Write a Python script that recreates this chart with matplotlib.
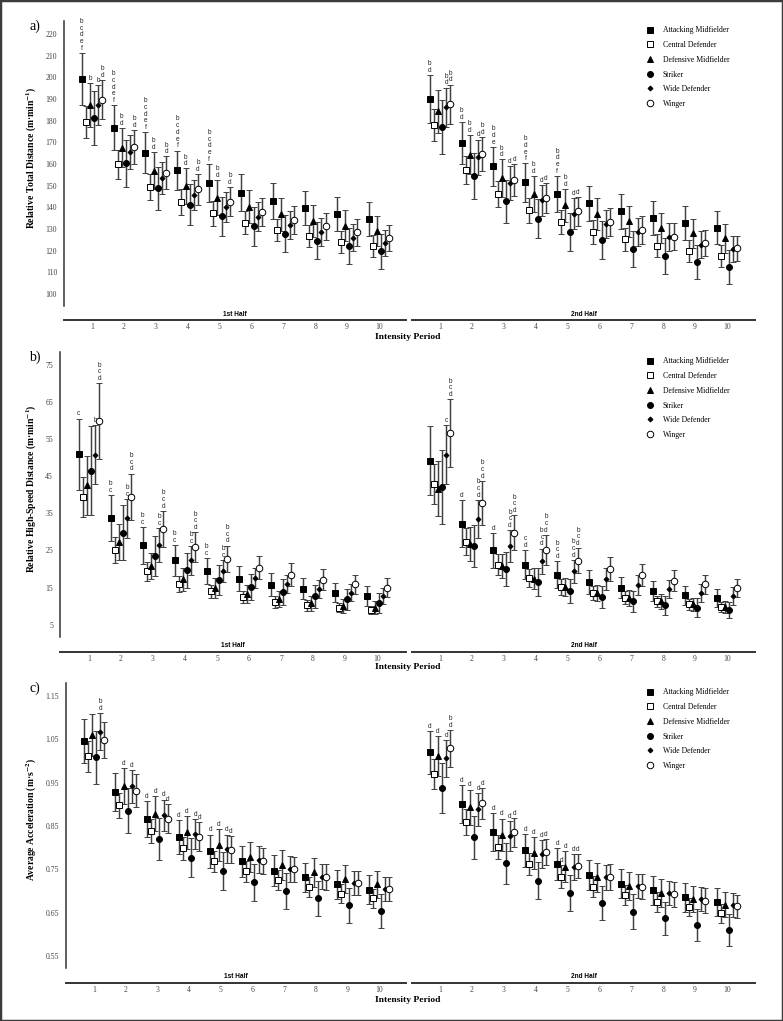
import numpy as np
import matplotlib.pyplot as plt
from matplotlib.lines import Line2D
from matplotlib.patches import Rectangle

plt.rcParams['mathtext.fontset'] = 'stix'

# ---------------- data ----------------
positions = ['Attacking Midfielder', 'Central Defender', 'Defensive Midfielder',
             'Striker', 'Wide Defender', 'Winger']
periods = np.arange(1, 11)
period_labels = [str(p) for p in periods]

# a) relative total distance (m/min), rows = positions, cols = periods
dist_h1_mean = [[199.2, 176.8, 165.2, 157.2, 151.3, 146.8, 143.0, 139.7, 137.0, 134.5],
                [179.5, 160.0, 149.5, 142.5, 137.2, 133.0, 129.6, 126.8, 124.2, 122.2],
                [187.4, 167.5, 157.0, 149.7, 144.5, 140.3, 136.8, 133.8, 131.5, 129.2],
                [181.2, 160.3, 148.8, 141.2, 135.8, 131.3, 127.8, 124.7, 122.0, 119.8],
                [187.3, 165.5, 153.5, 145.8, 140.2, 135.6, 131.8, 128.8, 126.0, 123.5],
                [189.7, 167.8, 156.0, 148.3, 142.7, 138.0, 134.3, 131.2, 128.5, 126.0]]
dist_h1_sd = [[12.0, 10.3, 9.5, 9.0, 8.7, 8.4, 8.2, 8.0, 8.0, 7.8],
              [7.4, 6.7, 6.0, 6.0, 5.8, 5.5, 5.2, 5.2, 5.1, 5.0],
              [10.1, 9.0, 8.5, 8.3, 8.0, 7.7, 7.5, 7.3, 7.2, 7.0],
              [12.5, 10.8, 10.0, 9.5, 9.0, 9.0, 8.6, 8.5, 8.3, 8.1],
              [9.2, 8.0, 7.5, 7.0, 6.8, 6.7, 6.5, 6.4, 6.2, 6.0],
              [9.0, 8.0, 7.5, 7.0, 6.7, 6.5, 6.4, 6.3, 6.1, 6.0]]
dist_h2_mean = [[190.0, 169.7, 158.9, 151.5, 146.2, 141.8, 138.2, 135.2, 132.8, 130.6],
                [178.2, 157.1, 146.0, 138.6, 133.2, 128.8, 125.2, 122.3, 119.8, 117.5],
                [184.3, 164.3, 153.5, 146.3, 140.9, 136.9, 133.5, 130.5, 128.0, 125.8],
                [177.1, 154.5, 142.8, 134.8, 128.5, 124.8, 120.8, 117.5, 114.8, 112.5],
                [186.3, 163.2, 151.2, 143.2, 137.1, 132.5, 128.8, 126.3, 122.8, 120.6],
                [187.7, 164.6, 152.5, 144.3, 138.2, 133.4, 129.5, 126.5, 123.7, 121.1]]
dist_h2_sd = [[11.0, 9.8, 9.0, 8.8, 8.3, 8.1, 8.0, 7.9, 7.8, 7.6],
              [7.4, 6.5, 6.0, 5.8, 5.6, 5.5, 5.3, 5.2, 5.1, 5.0],
              [10.0, 9.0, 8.6, 8.3, 7.7, 7.5, 7.2, 7.0, 6.8, 6.7],
              [12.3, 10.6, 9.8, 9.0, 8.8, 8.7, 8.5, 8.3, 8.0, 7.8],
              [9.0, 8.1, 8.0, 7.3, 7.2, 6.5, 6.5, 6.3, 6.2, 6.0],
              [9.0, 8.0, 7.4, 6.8, 6.6, 6.4, 6.3, 6.2, 6.0, 5.8]]

# b) relative high-speed distance (m/min)
hsd_h1_mean = [[50.9, 33.7, 26.4, 22.3, 19.4, 17.4, 15.8, 14.7, 13.6, 12.7],
               [39.4, 25.0, 19.4, 16.0, 14.0, 12.4, 11.1, 10.2, 9.6, 8.9],
               [42.5, 27.3, 20.7, 17.2, 14.9, 13.2, 12.0, 10.8, 10.0, 9.6],
               [46.5, 29.8, 23.4, 19.6, 17.0, 15.1, 13.8, 12.6, 11.8, 10.8],
               [50.8, 33.6, 26.4, 22.3, 19.4, 17.6, 16.0, 14.7, 13.6, 12.8],
               [59.8, 39.4, 30.8, 25.9, 22.8, 20.3, 18.5, 17.1, 15.9, 15.0]]
hsd_h1_sd = [[9.6, 6.2, 5.0, 4.2, 3.5, 3.3, 3.0, 2.8, 2.6, 2.6],
             [5.4, 3.5, 2.5, 2.1, 1.8, 1.6, 1.5, 1.4, 1.3, 1.1],
             [8.0, 4.8, 3.5, 3.0, 2.7, 2.4, 2.2, 2.0, 1.9, 1.7],
             [12.0, 7.3, 5.4, 4.7, 4.0, 3.5, 3.4, 3.0, 2.7, 2.7],
             [8.0, 5.2, 4.6, 3.9, 3.0, 2.7, 2.5, 2.4, 2.3, 2.2],
             [10.2, 6.3, 4.8, 4.0, 3.5, 3.1, 3.0, 2.8, 2.6, 2.5]]
hsd_h2_mean = [[49.2, 32.2, 25.0, 21.2, 18.5, 16.5, 15.0, 14.0, 12.9, 12.2],
               [42.9, 27.4, 21.2, 17.6, 15.1, 13.5, 12.3, 11.3, 10.5, 9.8],
               [41.6, 26.8, 20.8, 17.4, 15.1, 13.5, 12.2, 11.3, 10.5, 9.8],
               [42.1, 26.2, 20.1, 16.5, 14.1, 12.4, 11.3, 10.2, 9.6, 8.9],
               [50.8, 33.5, 26.2, 22.1, 19.4, 17.4, 15.8, 14.7, 13.5, 12.7],
               [56.6, 37.8, 29.8, 25.2, 22.2, 20.0, 18.3, 16.9, 15.9, 14.9]]
hsd_h2_sd = [[9.3, 6.3, 4.7, 4.0, 3.6, 3.2, 2.9, 2.7, 2.5, 2.4],
             [5.3, 3.7, 2.9, 2.4, 2.2, 1.9, 1.7, 1.5, 1.4, 1.3],
             [7.4, 4.6, 3.3, 2.9, 2.4, 2.2, 2.1, 2.0, 1.8, 1.7],
             [10.0, 5.7, 4.6, 3.9, 3.3, 3.0, 2.8, 2.6, 2.5, 2.2],
             [8.0, 5.1, 4.2, 3.4, 3.1, 3.0, 2.7, 2.4, 2.4, 2.4],
             [9.1, 5.9, 4.7, 4.0, 3.4, 3.2, 3.0, 2.8, 2.6, 2.5]]

# c) average acceleration (m/s2)
acc_h1_mean = [[1.047, 0.929, 0.866, 0.824, 0.792, 0.768, 0.747, 0.731, 0.715, 0.703],
               [1.011, 0.898, 0.838, 0.798, 0.768, 0.745, 0.726, 0.710, 0.694, 0.683],
               [1.060, 0.942, 0.878, 0.835, 0.805, 0.779, 0.760, 0.743, 0.728, 0.715],
               [1.008, 0.885, 0.820, 0.777, 0.745, 0.720, 0.700, 0.683, 0.667, 0.654],
               [1.068, 0.942, 0.875, 0.831, 0.797, 0.772, 0.751, 0.733, 0.718, 0.705],
               [1.048, 0.931, 0.867, 0.825, 0.795, 0.769, 0.750, 0.732, 0.718, 0.705]]
acc_h1_sd = [[0.051, 0.044, 0.041, 0.039, 0.038, 0.036, 0.035, 0.034, 0.034, 0.033],
             [0.036, 0.029, 0.027, 0.026, 0.025, 0.024, 0.023, 0.023, 0.022, 0.022],
             [0.049, 0.042, 0.040, 0.038, 0.037, 0.035, 0.034, 0.033, 0.032, 0.031],
             [0.061, 0.052, 0.048, 0.045, 0.044, 0.043, 0.042, 0.041, 0.040, 0.039],
             [0.043, 0.038, 0.036, 0.035, 0.033, 0.031, 0.030, 0.029, 0.028, 0.028],
             [0.042, 0.038, 0.034, 0.033, 0.031, 0.030, 0.029, 0.029, 0.028, 0.028]]
acc_h2_mean = [[1.020, 0.900, 0.836, 0.794, 0.762, 0.737, 0.717, 0.701, 0.685, 0.674],
               [0.970, 0.858, 0.801, 0.762, 0.733, 0.710, 0.691, 0.675, 0.662, 0.648],
               [1.012, 0.893, 0.829, 0.787, 0.756, 0.731, 0.712, 0.695, 0.681, 0.668],
               [0.937, 0.824, 0.764, 0.724, 0.695, 0.672, 0.652, 0.637, 0.622, 0.610],
               [1.006, 0.888, 0.826, 0.785, 0.755, 0.731, 0.712, 0.695, 0.681, 0.668],
               [1.029, 0.902, 0.835, 0.790, 0.758, 0.732, 0.710, 0.692, 0.677, 0.664]]
acc_h2_sd = [[0.050, 0.044, 0.043, 0.038, 0.037, 0.035, 0.034, 0.033, 0.033, 0.032],
             [0.035, 0.030, 0.028, 0.025, 0.026, 0.024, 0.023, 0.023, 0.021, 0.022],
             [0.046, 0.041, 0.038, 0.037, 0.035, 0.033, 0.032, 0.032, 0.030, 0.029],
             [0.058, 0.050, 0.047, 0.043, 0.042, 0.040, 0.040, 0.038, 0.037, 0.037],
             [0.042, 0.038, 0.035, 0.033, 0.030, 0.029, 0.028, 0.028, 0.028, 0.028],
             [0.042, 0.036, 0.033, 0.030, 0.028, 0.029, 0.028, 0.029, 0.029, 0.027]]

# significance letters: (period, position index, letters)
dist_h1_letters = [(1, 0, 'bcdef'), (1, 2, 'b'), (1, 4, 'b'), (1, 5, 'bd'),
                   (2, 0, 'bcdef'), (2, 2, 'bd'), (2, 5, 'bd'),
                   (3, 0, 'bcdef'), (3, 2, 'bd'), (3, 5, 'bd'),
                   (4, 0, 'bcdef'), (4, 2, 'bd'), (4, 5, 'bd'),
                   (5, 0, 'bcdef'), (5, 2, 'bd'), (5, 5, 'bd')]
dist_h2_letters = [(1, 0, 'bd'), (1, 4, 'bd'), (1, 5, 'bd'),
                   (2, 0, 'bd'), (2, 2, 'bd'), (2, 4, 'd'), (2, 5, 'bd'),
                   (3, 0, 'bde'), (3, 2, 'bd'), (3, 4, 'd'), (3, 5, 'd'),
                   (4, 0, 'bdef'), (4, 2, 'bd'), (4, 4, 'd'), (4, 5, 'd'),
                   (5, 0, 'bdef'), (5, 2, 'bd'), (5, 4, 'd'), (5, 5, 'd')]
hsd_h1_letters = [(1, 0, 'c'), (1, 4, 'b'), (1, 5, 'bcd'),
                  (2, 0, 'bc'), (2, 4, 'bc'), (2, 5, 'bcd'),
                  (3, 0, 'bc'), (3, 4, 'bc'), (3, 5, 'bcd'),
                  (4, 0, 'bc'), (4, 4, 'bc'), (4, 5, 'bcd'),
                  (5, 0, 'bc'), (5, 4, 'bc'), (5, 5, 'bcd')]
hsd_h2_letters = [(1, 4, 'c'), (1, 5, 'bcd'),
                  (2, 0, 'd'), (2, 4, 'bcd'), (2, 5, 'bcd'),
                  (3, 0, 'd'), (3, 4, 'bcd'), (3, 5, 'bcd'),
                  (4, 0, 'cd'), (4, 4, 'bcd'), (4, 5, 'bcd'),
                  (5, 0, 'bcd'), (5, 4, 'bcd'), (5, 5, 'bcd')]
acc_h1_letters = [(1, 4, 'bd'),
                  (2, 2, 'd'), (2, 4, 'd'),
                  (3, 0, 'd'), (3, 2, 'd'), (3, 4, 'd'), (3, 5, 'd'),
                  (4, 0, 'd'), (4, 2, 'd'), (4, 4, 'd'), (4, 5, 'd'),
                  (5, 0, 'd'), (5, 2, 'd'), (5, 4, 'd'), (5, 5, 'd')]
acc_h2_letters = [(1, 0, 'd'), (1, 2, 'd'), (1, 4, 'd'), (1, 5, 'bd'),
                  (2, 0, 'd'), (2, 2, 'd'), (2, 4, 'd'), (2, 5, 'd'),
                  (3, 0, 'd'), (3, 2, 'd'), (3, 4, 'd'), (3, 5, 'd'),
                  (4, 0, 'd'), (4, 2, 'd'), (4, 4, 'd'), (4, 5, 'd'),
                  (5, 0, 'd'), (5, 1, 'd'), (5, 2, 'd'), (5, 4, 'd'), (5, 5, 'd')]

# ---------------- styles ----------------
marker_style = [dict(marker='s', mfc='black', ms=4.3),
                dict(marker='s', mfc='white', ms=4.3),
                dict(marker='^', mfc='black', ms=4.7),
                dict(marker='o', mfc='black', ms=4.3),
                dict(marker='D', mfc='black', ms=2.5),
                dict(marker='o', mfc='white', ms=4.7)]
dodge = 0.13
SERIF = 'Liberation Serif'
SANS = 'Liberation Sans'
ink = '#404040'

W, H = 783, 1021
fig = plt.figure(figsize=(W / 100, H / 100), dpi=100)


def xlim_for(left, right, t1, t10):
    s = (t10 - t1) / 9
    return (1 - (t1 - left) / s, 10 + (right - t10) / s)


panels = [
    dict(letter='a)', ylabel='Relative Total Distance (m·min$^{\\mathbf{-1}}$)',
         data=(dist_h1_mean, dist_h1_sd, dist_h2_mean, dist_h2_sd),
         letters=(dist_h1_letters, dist_h2_letters),
         ylim=(94.5, 226), yticks=np.arange(100, 221, 10), fmt='{:.0f}',
         top=21, bottom=306, left=64, t1=92, t10=379, out=14, ip=337),
    dict(letter='b)', ylabel='Relative High-Speed Distance (m·min$^{\\mathbf{-1}}$)',
         data=(hsd_h1_mean, hsd_h1_sd, hsd_h2_mean, hsd_h2_sd),
         letters=(hsd_h1_letters, hsd_h2_letters),
         ylim=(1.7, 78.4), yticks=np.arange(5, 76, 10), fmt='{:.0f}',
         top=352, bottom=637, left=60, t1=89, t10=377, out=15, ip=667),
    dict(letter='c)', ylabel='Average Acceleration (m·s$^{\\mathbf{-2}}$)',
         data=(acc_h1_mean, acc_h1_sd, acc_h2_mean, acc_h2_sd),
         letters=(acc_h1_letters, acc_h2_letters),
         ylim=(0.522, 1.18), yticks=np.arange(0.55, 1.16, 0.1), fmt='{:.2f}',
         top=683, bottom=968, left=66, t1=94, t10=379, out=15, ip=1000),
]

for pi, p in enumerate(panels):
    h = (p['bottom'] - p['top']) / H
    b = 1 - p['bottom'] / H
    axL = fig.add_axes([p['left'] / W, b, (406 - p['left']) / W, h])
    axR = fig.add_axes([412 / W, b, (755 - 412) / W, h], sharey=axL)
    axL.set_xlim(*xlim_for(p['left'], 406, p['t1'], p['t10']))
    axR.set_xlim(*xlim_for(412, 755, 440, 727))

    means1, sds1, means2, sds2 = p['data']
    for ax, means, sds, lets, half in [(axL, means1, sds1, p['letters'][0], '1st Half'),
                                       (axR, means2, sds2, p['letters'][1], '2nd Half')]:
        for k in range(6):
            x = periods + (k - 2.5) * dodge
            ax.errorbar(x, means[k], yerr=sds[k], ls='none', color=ink,
                        elinewidth=1.05, capsize=2.3, capthick=0.9,
                        mec='black', mew=0.7, zorder=3, **marker_style[k])
        for per, k, txt in lets:
            ax.annotate('\n'.join(txt), (per + (k - 2.5) * dodge, means[k][per - 1] + sds[k][per - 1]),
                        xytext=(0, 0.8), textcoords='offset points', ha='center', va='bottom',
                        fontsize=4.7, family=SANS, color='#222', linespacing=0.95)
        for s in ['top', 'right']:
            ax.spines[s].set_visible(False)
        ax.spines['bottom'].set_position(('outward', p['out'] * 0.72))
        ax.spines['bottom'].set_linewidth(1.4)
        ax.spines['bottom'].set_color('#333')
        ax.set_xticks(periods)
        ax.set_xticklabels(period_labels, family=SERIF, fontsize=5.5, color='#444')
        ax.tick_params(axis='x', length=0, pad=2.5)
        ax.text(0.5, -8 / (p['bottom'] - p['top']), half, transform=ax.transAxes,
                ha='center', va='center', fontsize=4.7, family=SANS, weight='bold')

    axL.spines['left'].set_linewidth(1.1)
    axL.spines['left'].set_color('#333')
    axL.set_ylim(*p['ylim'])
    axL.set_yticks(p['yticks'])
    axL.set_yticklabels([p['fmt'].format(v) for v in p['yticks']], family=SERIF,
                        fontsize=5.6, color='#444')
    axL.tick_params(axis='y', length=0, pad=5)
    axL.set_ylabel(p['ylabel'], family=SERIF, weight='bold', fontsize=6.9)
    axL.yaxis.set_label_coords((39 - p['left']) / (406 - p['left']), 0.52)
    axR.spines['left'].set_visible(False)
    axR.tick_params(axis='y', left=False, labelleft=False)

    fig.text(35 / W, 1 - (p['top'] + 5) / H, p['letter'], family=SERIF, fontsize=10,
             ha='center', va='center')
    fig.text(408 / W, 1 - p['ip'] / H, 'Intensity Period', family=SERIF, weight='bold',
             fontsize=6.8, ha='center', va='center')

    handles = [Line2D([], [], ls='none', mec='black', mew=0.7, **marker_style[k]) for k in range(6)]
    axR.legend(handles, positions, loc='upper left', bbox_to_anchor=(0.668, 1.0),
               frameon=False, prop=dict(family=SERIF, size=5.6),
               handlelength=1.0, handletextpad=1.1, labelspacing=0.86, borderaxespad=0.3)

fig.add_artist(Rectangle((0, 0), 1, 1, transform=fig.transFigure, fill=False,
                         lw=2.5, ec='#3c3c3c'))

fig.savefig('out.png', dpi=100)
